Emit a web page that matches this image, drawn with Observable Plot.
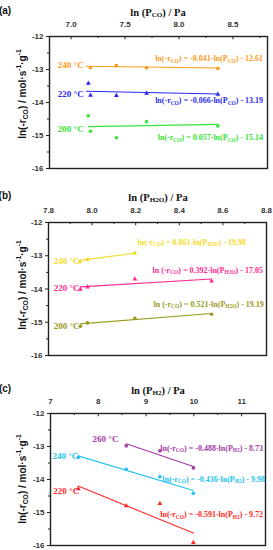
<!DOCTYPE html>
<html><head><meta charset="utf-8">
<script src="https://cdn.jsdelivr.net/npm/d3@7"></script>
<script src="https://cdn.jsdelivr.net/npm/@observablehq/plot@0.6"></script>
<style>
body{margin:0;background:#fff;}
#chart{width:273px;}
#chart svg{display:block;overflow:visible;}
</style></head><body><div id="chart"></div>
<script>
// ---------- Panel (a): ln(P_CO) ----------
const aTemps = ["240 °C", "220 °C", "200 °C"];
const aColors = ["#ff9a1e", "#2b2bf0", "#33e633"];
const aSymbols = ["square", "triangle", "circle"];
const a240x = [7.18, 7.42, 7.70, 8.36];
const a240y = [-12.94, -12.88, -12.95, -12.97];
const a220x = [7.16, 7.18, 7.42, 7.70, 8.36];
const a220y = [-13.42, -13.78, -13.79, -13.72, -13.75];
const a200x = [7.16, 7.18, 7.42, 7.70, 8.36];
const a200y = [-14.40, -14.87, -15.07, -14.58, -14.71];
const aSlopes = [-0.041, -0.066, 0.057];
const aIntercepts = [-12.61, -13.19, -15.14];
const aFitFrom = [7.14, 7.14, 7.16];
const aFitTo = [8.36, 8.36, 8.36];
const aXTicks = [7.0, 7.5, 8.0, 8.5];
const aXMinor = [6.75, 7.25, 7.75, 8.25, 8.75];

// ---------- Panel (b): ln(P_H2O) ----------
const bTemps = ["240 °C", "220 °C", "200 °C"];
const bColors = ["#f2dc26", "#ff2a93", "#9a9a1e"];
const bSymbols = ["square", "triangle", "circle"];
const b240x = [7.944, 7.979, 8.196];
const b240y = [-13.18, -13.11, -12.92];
const b220x = [7.946, 7.979, 8.196, 8.548];
const b220y = [-14.01, -13.94, -13.70, -13.76];
const b200x = [7.946, 7.979, 8.196, 8.548];
const b200y = [-15.12, -15.02, -14.88, -14.76];
const bSlopes = [0.861, 0.392, 0.521];
const bIntercepts = [-19.98, -17.05, -19.19];
const bFitFrom = [7.944, 7.946, 7.946];
const bFitTo = [8.196, 8.548, 8.548];
const bXTicks = [7.8, 8.0, 8.2, 8.4, 8.6, 8.8];
const bXMinor = [7.9, 8.1, 8.3, 8.5, 8.7];

// ---------- Panel (c): ln(P_H2) ----------
const cTemps = ["260 °C", "240 °C", "220 °C"];
const cColors = ["#a53aa5", "#22c2ee", "#ff2a2a"];
const cSymbols = ["square", "circle", "triangle"];
const c260x = [8.585, 9.29, 9.99];
const c260y = [-12.98, -13.13, -13.65];
const c240x = [7.58, 8.585, 9.29, 9.99];
const c240y = [-13.33, -13.69, -13.92, -14.42];
const c220x = [7.58, 8.585, 9.29, 9.99];
const c220y = [-14.28, -14.80, -14.73, -15.91];
const cSlopes = [-0.488, -0.436, -0.591];
const cIntercepts = [-8.73, -9.98, -9.72];
const cFitFrom = [8.585, 7.58, 7.58];
const cFitTo = [9.99, 9.99, 9.99];
const cXTicks = [7, 8, 9, 10, 11];
const cXMinor = [7.5, 8.5, 9.5, 10.5, 11.5];

const yTicks = [-12, -13, -14, -15, -16];
const yMinor = [-12.5, -13.5, -14.5, -15.5];

const SERIF = "'Liberation Serif','Times New Roman',serif";
const SANS = "'Liberation Sans',Arial,sans-serif";

function rich(textSel, segs, fs) {
  let off = 0;
  segs.forEach(([t, k]) => {
    const ts = textSel.append("tspan").text(t);
    let target = 0, size = fs;
    if (k === "sub") { target = fs * 0.32; size = fs * 0.68; }
    if (k === "sup") { target = -fs * 0.42; size = fs * 0.68; }
    ts.attr("dy", target - off).attr("font-size", size);
    off = target;
  });
}

function eqSegs(prefix, sub, slope, intercept) {
  return [[prefix, ""], ["CO", "sub"], [") = " + slope.toFixed(3) + "·ln(P", ""], [sub, "sub"], [") - " + Math.abs(intercept).toFixed(2), ""]];
}

function panel(cfg) {
  const series = cfg.xs.map((xs, i) => xs.map((x, j) => ({x, y: cfg.ys[i][j], s: i})));
  const pts = series.flat();
  const fits = cfg.slopes.flatMap((m, i) => [
    {x: cfg.fitFrom[i], y: m * cfg.fitFrom[i] + cfg.intercepts[i], s: i},
    {x: cfg.fitTo[i], y: m * cfg.fitTo[i] + cfg.intercepts[i], s: i}
  ]);
  const labels = cfg.temps.map((t, i) => ({t, x: cfg.labelX[i], y: cfg.labelY[i], s: i}));
  const plot = Plot.plot({
    width: 273, height: cfg.height,
    marginTop: cfg.mt, marginBottom: cfg.mb, marginLeft: cfg.ml, marginRight: cfg.mr,
    x: {domain: cfg.xDomain},
    y: {domain: [-16, -12]},
    style: {fontFamily: SANS, background: "white"},
    marks: [
      Plot.axisX(cfg.xTicks, {anchor: "top", tickSize: 0, tickPadding: 10, label: null,
        tickFormat: cfg.xFmt, fontSize: 8, fontWeight: "bold", fill: "#333"}),
      Plot.ruleX(cfg.xTicks, {x: d => d, y1: -12, y2: -12.1, stroke: "#222", strokeWidth: 1}),
      Plot.ruleX(cfg.xMinor.filter(v => v > cfg.xDomain[0] && v < cfg.xDomain[1]), {x: d => d, y1: -12, y2: -12.06, stroke: "#222", strokeWidth: 1}),
      Plot.axisY(yTicks, {tickSize: 3, tickPadding: 3, label: null, tickFormat: d => String(d),
        fontSize: 8, fontWeight: "bold", fill: "#333", stroke: "#222"}),
      Plot.axisY(yMinor, {tickSize: 2, label: null, tickFormat: () => "", stroke: "#222"}),
      Plot.line(fits, {x: "x", y: "y", z: "s", stroke: d => cfg.colors[d.s], strokeWidth: 1.1}),
      Plot.dot(pts, {x: "x", y: "y", symbol: d => cfg.symbols[d.s], fill: d => cfg.colors[d.s], r: 1.8, stroke: "none"}),
      Plot.text(labels, {x: "x", y: "y", text: "t", fill: d => cfg.colors[d.s], textAnchor: "start",
        fontFamily: SERIF, fontWeight: "bold", fontSize: 9}),
      Plot.frame({stroke: "#222", strokeWidth: 1.4})
    ]
  });
  const svg = d3.select(plot);
  const sx = plot.scale("x"), sy = plot.scale("y");
  // panel tag
  svg.append("text").attr("x", 5).attr("y", cfg.tagY).attr("font-family", SANS).attr("font-weight", "bold")
    .attr("font-size", 10).attr("fill", "#111").attr("dominant-baseline", "central").text(cfg.tag);
  // x title
  const xt = svg.append("text").attr("x", cfg.xTitleX).attr("y", cfg.tagY + 2).attr("text-anchor", "middle")
    .attr("dominant-baseline", "central").attr("font-family", SERIF).attr("font-weight", "bold").attr("fill", "#111");
  rich(xt, [["ln (P", ""], [cfg.sub, "sub"], [") / Pa", ""]], 10.5);
  // y title
  const yc = cfg.yTitleY;
  const yt = svg.append("text").attr("transform", `translate(22,${yc}) rotate(-90)`).attr("text-anchor", "middle")
    .attr("dominant-baseline", "central").attr("font-family", SANS).attr("font-weight", "bold").attr("fill", "#111");
  rich(yt, [["ln(-r", ""], ["CO", "sub"], [") / mol·s", ""], ["-1", "sup"], ["·g", ""], ["-1", "sup"]], 10);
  // equations
  cfg.slopes.forEach((m, i) => {
    const t = svg.append("text").attr("x", sx.apply(cfg.eqX[i])).attr("y", sy.apply(cfg.eqY[i]))
      .attr("text-anchor", "end").attr("dominant-baseline", "central").attr("font-family", SERIF)
      .attr("font-weight", "bold").attr("fill", cfg.colors[i]);
    rich(t, eqSegs(cfg.eqPrefix[i], cfg.sub, m, cfg.intercepts[i]), 8);
  });
  return plot;
}

const root = document.getElementById("chart");
root.appendChild(panel({
  tag: "(a)", sub: "CO", height: 180, mt: 36, mb: 12, ml: 49, mr: 6, tagY: 10, xTitleX: 158, yTitleY: 94,
  xDomain: [6.8, 8.82], xTicks: aXTicks, xMinor: aXMinor, xFmt: d => d.toFixed(1),
  xs: [a240x, a220x, a200x], ys: [a240y, a220y, a200y],
  temps: aTemps, colors: aColors, symbols: aSymbols,
  slopes: aSlopes, intercepts: aIntercepts, fitFrom: aFitFrom, fitTo: aFitTo,
  labelX: [6.877, 6.877, 6.877], labelY: [-12.86, -13.74, -14.80],
  eqX: [8.784, 8.784, 8.784], eqY: [-12.68, -13.95, -15.07],
  eqPrefix: ["ln(-r", "ln(-r", "ln(-r"]
}));
root.appendChild(panel({
  tag: "(b)", sub: "H2O", height: 185, mt: 42, mb: 10, ml: 48, mr: 7, tagY: 15, xTitleX: 158, yTitleY: 105,
  xDomain: [7.8, 8.8], xTicks: bXTicks, xMinor: bXMinor, xFmt: d => d.toFixed(1),
  xs: [b240x, b220x, b200x], ys: [b240y, b220y, b200y],
  temps: bTemps, colors: bColors, symbols: bSymbols,
  slopes: bSlopes, intercepts: bIntercepts, fitFrom: bFitFrom, fitTo: bFitTo,
  labelX: [7.824, 7.824, 7.824], labelY: [-13.17, -13.98, -15.12],
  eqX: [8.708, 8.786, 8.79], eqY: [-12.59, -13.44, -14.46],
  eqPrefix: ["ln(-r", "ln (-r", "ln (-r"]
}));
root.appendChild(panel({
  tag: "(c)", sub: "H2", height: 185, mt: 48, mb: 5, ml: 50, mr: 8, tagY: 23, xTitleX: 158, yTitleY: 114,
  xDomain: [7, 11.5], xTicks: cXTicks, xMinor: cXMinor, xFmt: d => String(d),
  xs: [c260x, c240x, c220x], ys: [c260y, c240y, c220y],
  temps: cTemps, colors: cColors, symbols: cSymbols,
  slopes: cSlopes, intercepts: cIntercepts, fitFrom: cFitFrom, fitTo: cFitTo,
  labelX: [7.88, 7.04, 7.06], labelY: [-12.78, -13.29, -14.35],
  eqX: [11.46, 11.5, 11.46], eqY: [-13.05, -13.99, -15.07],
  eqPrefix: ["ln(-r", "ln(-r", "ln(-r"]
}));
</script></body></html>
